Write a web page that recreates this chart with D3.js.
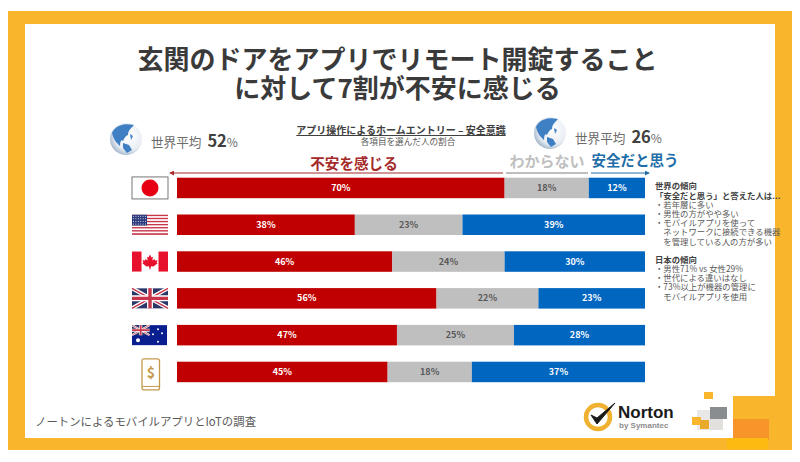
<!DOCTYPE html>
<html>
<head>
<meta charset="utf-8">
<script src="https://cdn.jsdelivr.net/npm/d3@7"></script>
<style>
  html, body { margin: 0; padding: 0; background: #fff; }
  svg { display: block; }
  text { font-family: "Noto Sans CJK JP", sans-serif; }
</style>
</head>
<body>
<div id="chart"></div>
<script>
// Chart values
var rows = ["japan", "usa", "canada", "uk", "australia", "mobile"];
var unsafe = [70, 38, 46, 56, 47, 45];
var unknown = [18, 23, 24, 22, 25, 18];
var safe = [12, 39, 30, 23, 28, 37];
var seriesKeys = ["unsafe", "unknown", "safe"];
var seriesColors = ["#c00000", "#bfbfbf", "#0066bf"];
var labelColors = ["#fff", "#595959", "#fff"];
var titleLines = ["玄関のドアをアプリでリモート開錠すること", "に対して7割が不安に感じる"];
var worldNote = ["世界の傾向", "「安全だと思う」と答えた人は...", "・若年層に多い", "・男性の方がやや多い", "・モバイルアプリを使って", "　ネットワークに接続できる機器", "　を管理している人の方が多い"];
var japanNote = ["日本の傾向", "・男性71% vs 女性29%", "・世代による違いはなし", "・73%以上が機器の管理に", "　モバイルアプリを使用"];

var width = 800;
var height = 462;

var svg = d3.select("#chart")
  .append("svg")
  .attr("width", width)
  .attr("height", height);

var defs = svg.append("defs");

// Frame
svg.append("rect").attr("x", 8).attr("y", 11).attr("width", 784).attr("height", 439).attr("fill", "#f9b62c");
svg.append("rect").attr("x", 25).attr("y", 24).attr("width", 750).attr("height", 414).attr("fill", "#fff");

// Corner decoration
var deco = [
  [733, 396, 42, 42, "#f9b62c"],
  [733, 419, 36, 21, "#f7952a"],
  [727, 438, 41, 11, "#fdbb11"],
  [704, 392, 9, 7, "#f9b62c"],
  [697, 410, 13, 20, "#e8e8e8"],
  [710, 419, 13, 11, "#e2e0dc"],
  [710, 407, 17, 12, "#8a8d90"],
  [692, 417, 9, 8, "#f9b62c"],
  [700, 420, 9, 9, "#e9a92a"]
];
svg.selectAll(".deco").data(deco).join("rect")
  .attr("class", "deco")
  .attr("x", function(d) { return d[0]; })
  .attr("y", function(d) { return d[1]; })
  .attr("width", function(d) { return d[2]; })
  .attr("height", function(d) { return d[3]; })
  .attr("fill", function(d) { return d[4]; });

// Title
svg.selectAll(".title").data(titleLines).join("text")
  .attr("class", "title")
  .attr("x", 397.5)
  .attr("y", function(d, i) { return 69 + i * 29; })
  .attr("text-anchor", "middle")
  .attr("font-size", 26)
  .attr("font-weight", 700)
  .attr("fill", "#3a3a3a")
  .text(function(d) { return d; });

// Scales
var x = d3.scaleLinear().domain([0, 1]).range([177, 645]);
var y = d3.scaleBand().domain(rows).range([177.7, 382.2]).paddingInner(0.443);

var table = rows.map(function(r, i) {
  return { row: r, unsafe: unsafe[i], unknown: unknown[i], safe: safe[i] };
});
var stacked = d3.stack().keys(seriesKeys).offset(d3.stackOffsetExpand)(table);

// Bars and their labels
var layer = svg.selectAll(".layer").data(stacked).join("g").attr("class", "layer");

layer.selectAll("rect").data(function(s) { return s; }).join("rect")
  .attr("x", function(d) { return x(d[0]); })
  .attr("y", function(d) { return y(d.data.row); })
  .attr("width", function(d) { return x(d[1]) - x(d[0]); })
  .attr("height", y.bandwidth())
  .attr("fill", function(d) { return seriesColors[seriesKeys.indexOf(d3.select(this.parentNode).datum().key)]; });

layer.selectAll("text").data(function(s) { return s.map(function(d) { return { d: d, key: s.key }; }); }).join("text")
  .attr("x", function(e) { return (x(e.d[0]) + x(e.d[1])) / 2; })
  .attr("y", function(e) { return y(e.d.data.row) + y.bandwidth() / 2 + 3; })
  .attr("text-anchor", "middle")
  .attr("font-size", 9)
  .attr("font-weight", 700)
  .attr("fill", function(e) { return labelColors[seriesKeys.indexOf(e.key)]; })
  .text(function(e) { return e.d.data[e.key] + "%"; });

// Column headers with their arrows
defs.append("marker").attr("id", "arrowRed").attr("viewBox", "0 0 6 6").attr("refX", 5).attr("refY", 3)
  .attr("markerWidth", 5).attr("markerHeight", 5).attr("markerUnits", "userSpaceOnUse").attr("orient", "auto")
  .append("path").attr("d", "M0,0L6,3L0,6Z").attr("fill", "#a52a2a");
defs.append("marker").attr("id", "arrowBlue").attr("viewBox", "0 0 6 6").attr("refX", 5).attr("refY", 3)
  .attr("markerWidth", 5).attr("markerHeight", 5).attr("markerUnits", "userSpaceOnUse").attr("orient", "auto")
  .append("path").attr("d", "M0,0L6,3L0,6Z").attr("fill", "#1f6ea8");

svg.append("line").attr("x1", 503).attr("x2", 170).attr("y1", 173).attr("y2", 173)
  .attr("stroke", "#a52a2a").attr("stroke-width", 1).attr("marker-end", "url(#arrowRed)");
svg.append("line").attr("x1", 506).attr("x2", 588).attr("y1", 173).attr("y2", 173)
  .attr("stroke", "#7f7f7f").attr("stroke-width", 1);
svg.append("line").attr("x1", 591).attr("x2", 649).attr("y1", 173).attr("y2", 173)
  .attr("stroke", "#1f6ea8").attr("stroke-width", 1).attr("marker-end", "url(#arrowBlue)");

svg.append("text").attr("x", 354).attr("y", 169).attr("text-anchor", "middle")
  .attr("font-size", 14.6).attr("font-weight", 700).attr("fill", "#a52a2a").text("不安を感じる");
svg.append("text").attr("x", 547).attr("y", 167).attr("text-anchor", "middle")
  .attr("font-size", 15).attr("font-weight", 700).attr("fill", "#bfbfbf").text("わからない");
svg.append("text").attr("x", 635).attr("y", 166).attr("text-anchor", "middle")
  .attr("font-size", 14.5).attr("font-weight", 700).attr("fill", "#1f6ea8").text("安全だと思う");

// Centre heading
svg.append("text").attr("x", 401).attr("y", 134).attr("text-anchor", "middle")
  .attr("font-size", 10).attr("font-weight", 700).attr("fill", "#404040")
  .attr("text-decoration", "underline").text("アプリ操作によるホームエントリー – 安全意識");
svg.append("text").attr("x", 408).attr("y", 144.5).attr("text-anchor", "middle")
  .attr("font-size", 8.6).attr("fill", "#595959").text("各項目を選んだ人の割合");

// Globes and world averages
var grad = defs.append("radialGradient").attr("id", "globe").attr("cx", "60%").attr("cy", "40%").attr("r", "65%");
grad.append("stop").attr("offset", "0%").attr("stop-color", "#ffffff");
grad.append("stop").attr("offset", "70%").attr("stop-color", "#e8edf3");
grad.append("stop").attr("offset", "100%").attr("stop-color", "#9fb3c8");

function drawGlobe(cx, cy) {
  var g = svg.append("g").attr("transform", "translate(" + cx + "," + cy + ")");
  g.append("circle").attr("r", 16).attr("fill", "url(#globe)");
  g.append("path")
    .attr("d", "M-14,-6C-10,-14 -2,-16 8,-14C4,-10 2,-8 2,-4C-1,-3 -2,0 -3,2C-5,0 -6,3 -6,7C-9,4 -12,2 -14,-6Z")
    .attr("fill", "#3f7fc4");
  g.append("path").attr("d", "M-3,4L3,6L6,11L1,14L-3,9Z").attr("fill", "#3f7fc4");
  g.append("path").attr("d", "M4,-5L7,-3L5,1Z").attr("fill", "#3f7fc4");
}
drawGlobe(126, 139);
drawGlobe(550, 133);

function drawAverage(xPos, yPos, value) {
  var t = svg.append("text").attr("x", xPos).attr("y", yPos).attr("fill", "#6b6b6b").attr("font-size", 12.6);
  t.append("tspan").text("世界平均");
  t.append("tspan").attr("dx", 6).attr("font-size", 16.5).attr("font-weight", 700).attr("fill", "#404040").text(value);
  t.append("tspan").attr("font-size", 12).text("%");
}
drawAverage(151, 147, "52");
drawAverage(575, 143, "26");

// Flags, placed on the band of each row
var flagW = 36, flagH = 20;

function flagGroup(row) {
  return svg.append("g")
    .attr("transform", "translate(132," + (y(row) + y.bandwidth() / 2 - flagH / 2) + ")");
}

var jp = flagGroup("japan");
jp.append("rect").attr("y", -1).attr("width", flagW).attr("height", flagH + 2).attr("fill", "#fff").attr("stroke", "#555").attr("stroke-width", 0.8);
jp.append("circle").attr("cx", 18).attr("cy", 10).attr("r", 8.5).attr("fill", "#e60012");

var us = flagGroup("usa");
d3.range(13).forEach(function(i) {
  us.append("rect").attr("y", i * flagH / 13).attr("width", flagW).attr("height", flagH / 13 + 0.1)
    .attr("fill", i % 2 ? "#fff" : "#c8354a");
});
us.append("rect").attr("width", 15).attr("height", 10.8).attr("fill", "#2b3a7d");
d3.range(4).forEach(function(r) {
  d3.range(6).forEach(function(c) {
    us.append("circle").attr("cx", 1.5 + c * 2.4).attr("cy", 1.5 + r * 2.6).attr("r", 0.5).attr("fill", "#fff");
  });
});

var ca = flagGroup("canada");
ca.append("rect").attr("width", flagW).attr("height", flagH).attr("fill", "#fff");
ca.append("rect").attr("width", 9.5).attr("height", flagH).attr("fill", "#e8112d");
ca.append("rect").attr("x", 26.5).attr("width", 9.5).attr("height", flagH).attr("fill", "#e8112d");
ca.append("path")
  .attr("d", "M18,3L19.5,6L21,5.3L20.3,9L22.5,7.5L23,9L25.5,8.7L24.7,11.2L25.7,11.8L21.5,15L19,14.6L18.4,17.6L17.6,17.6L17,14.6L14.5,15L10.3,11.8L11.3,11.2L10.5,8.7L13,9L13.5,7.5L15.7,9L15,5.3L16.5,6Z")
  .attr("fill", "#e8112d");

function drawUnion(g, w, h) {
  g.append("rect").attr("width", w).attr("height", h).attr("fill", "#2a3568");
  g.append("path").attr("d", "M0,0L" + w + "," + h + "M" + w + ",0L0," + h).attr("stroke", "#fff").attr("stroke-width", h * 0.2);
  g.append("path").attr("d", "M0,0L" + w + "," + h + "M" + w + ",0L0," + h).attr("stroke", "#c8354a").attr("stroke-width", h * 0.07);
  g.append("path").attr("d", "M" + w / 2 + ",0V" + h + "M0," + h / 2 + "H" + w).attr("stroke", "#fff").attr("stroke-width", h * 0.3);
  g.append("path").attr("d", "M" + w / 2 + ",0V" + h + "M0," + h / 2 + "H" + w).attr("stroke", "#c8354a").attr("stroke-width", h * 0.17);
}

var uk = flagGroup("uk");
drawUnion(uk, flagW, flagH);

var au = flagGroup("australia");
au.append("rect").attr("width", 35).attr("height", flagH).attr("fill", "#0a1f8f");
drawUnion(au.append("g"), 17.5, 10);
[[6, 15, 2], [26, 4, 1], [26, 16.5, 1], [21, 9, 1], [30, 8, 1]].forEach(function(s) {
  au.append("circle").attr("cx", s[0]).attr("cy", s[1]).attr("r", s[2]).attr("fill", "#fff");
});

var phone = flagGroup("mobile");
phone.append("rect").attr("x", 10).attr("y", -3).attr("width", 17.5).attr("height", 31).attr("rx", 2)
  .attr("fill", "#fff").attr("stroke", "#c49a4a").attr("stroke-width", 1.3);
phone.append("line").attr("x1", 10).attr("x2", 27.5).attr("y1", 24.5).attr("y2", 24.5).attr("stroke", "#c49a4a").attr("stroke-width", 1);
phone.append("text").attr("x", 18.8).attr("y", 16).attr("text-anchor", "middle").attr("font-size", 14)
  .attr("font-weight", 700).attr("fill", "#c49a4a").text("$");

// Side notes
svg.append("g").selectAll("text").data(worldNote).join("text")
  .attr("x", 655)
  .attr("y", function(d, i) { return [189, 199, 208, 217, 226, 235, 245][i]; })
  .attr("font-size", 8.4)
  .attr("font-weight", function(d, i) { return i < 2 ? 700 : 400; })
  .attr("fill", function(d, i) { return i < 2 ? "#404040" : "#595959"; })
  .text(function(d) { return d; });

svg.append("g").selectAll("text").data(japanNote).join("text")
  .attr("x", 655)
  .attr("y", function(d, i) { return [263, 272, 281, 290, 300][i]; })
  .attr("font-size", 8.4)
  .attr("font-weight", function(d, i) { return i < 1 ? 700 : 400; })
  .attr("fill", function(d, i) { return i < 1 ? "#404040" : "#595959"; })
  .text(function(d) { return d; });

// Footer source
svg.append("text").attr("x", 35).attr("y", 426).attr("font-size", 11.4).attr("fill", "#595959")
  .text("ノートンによるモバイルアプリとIoTの調査");

// Norton logo
svg.append("circle").attr("cx", 598).attr("cy", 417).attr("r", 12).attr("fill", "#fff")
  .attr("stroke", "#f0b030").attr("stroke-width", 4.5);
svg.append("path").attr("d", "M591,415L597,424L615,403L597,418Z")
  .attr("fill", "#1a1a1a").attr("stroke", "#1a1a1a").attr("stroke-width", 1);
svg.append("text").attr("x", 618).attr("y", 418).attr("style", "font-family:'Liberation Sans'")
  .attr("font-size", 17).attr("font-weight", 700).attr("fill", "#1a1a1a").text("Norton");
svg.append("text").attr("x", 619).attr("y", 428).attr("style", "font-family:'Liberation Sans'")
  .attr("font-size", 8).attr("font-weight", 700).attr("fill", "#8c8c8c").text("by Symantec");
</script>
</body>
</html>
